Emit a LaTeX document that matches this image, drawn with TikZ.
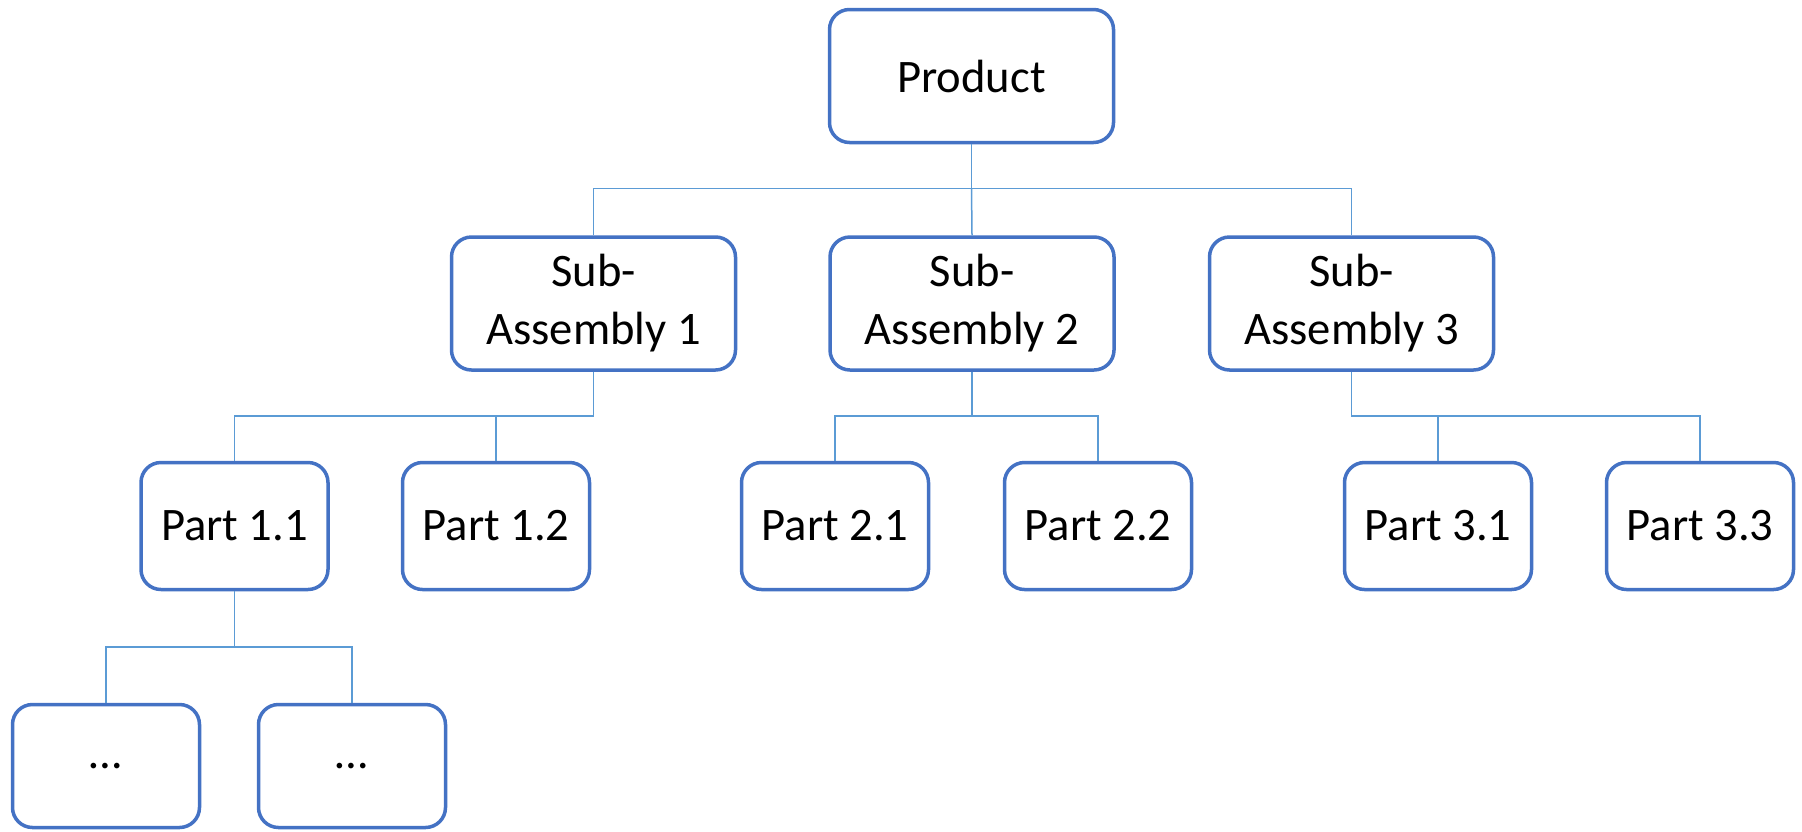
\documentclass[tikz,border=0pt]{standalone}
\usepackage{fontspec}
\setmainfont{Carlito}
\definecolor{boxblue}{HTML}{4472C4}
\definecolor{linkblue}{HTML}{5B9BD5}
\begin{document}
\begin{tikzpicture}[x=0.5pt,y=-0.5pt,
  card/.style={draw=boxblue,line width=1.75pt,rounded corners=10pt,fill=white,
    align=center,inner sep=0pt,font=\fontsize{23.3}{29}\selectfont},
  bigcard/.style={card,minimum width=142pt,minimum height=66.5pt},
  partcard/.style={card,minimum width=93.5pt,minimum height=63.5pt},
  conn/.style={draw=linkblue,line width=0.75pt}]
\useasboundingbox (0,0) rectangle (1802,831);

% boxes
\node[bigcard] (prod) at (971.5,76) {Product};
\node[bigcard] (sa1) at (593.5,303.5) {Sub-\\Assembly 1};
\node[bigcard] (sa2) at (972,303.5) {Sub-\\Assembly 2};
\node[bigcard] (sa3) at (1351.5,303.5) {Sub-\\Assembly 3};

\node[partcard] (p11) at (234.5,526) {Part 1.1};
\node[partcard] (p12) at (496,526) {Part 1.2};
\node[partcard] (p21) at (835,526) {Part 2.1};
\node[partcard] (p22) at (1098,526) {Part 2.2};
\node[partcard] (p31) at (1438,526) {Part 3.1};
\node[partcard] (p33) at (1700,526) {Part 3.3};

\node[partcard,minimum height=61.5pt] (d1) at (106,766) {…};
\node[partcard,minimum height=61.5pt] (d2) at (352,766) {…};

% junction levels
\coordinate (lv1) at (0,188.5);
\coordinate (lv2) at (0,416);
\coordinate (lv3) at (0,647);

% connectors
\draw[conn] (prod.south) -- (prod.south |- lv1) -| (sa1.north);
\draw[conn] (prod.south) -- (prod.south |- lv1) -| (sa3.north);
\draw[conn] (prod.south |- lv1) -- (sa2.north);

\draw[conn] (sa1.south) -- (sa1.south |- lv2) -| (p11.north);
\draw[conn] (p12.north) -- (p12.north |- lv2);

\draw[conn] (sa2.south) -- (sa2.south |- lv2) -| (p21.north);
\draw[conn] (sa2.south |- lv2) -| (p22.north);

\draw[conn] (sa3.south) -- (sa3.south |- lv2) -| (p33.north);
\draw[conn] (p31.north) -- (p31.north |- lv2);

\draw[conn] (p11.south) -- (p11.south |- lv3) -| (d1.north);
\draw[conn] (p11.south |- lv3) -| (d2.north);
\end{tikzpicture}
\end{document}
